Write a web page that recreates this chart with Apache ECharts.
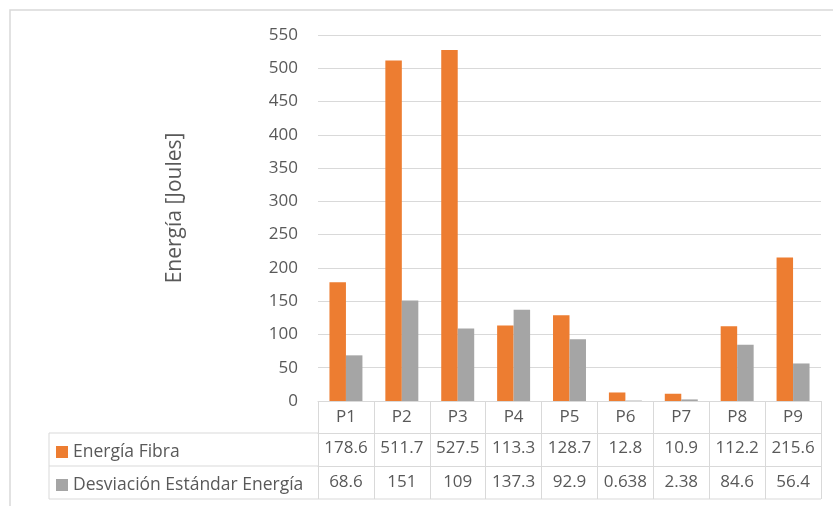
<!DOCTYPE html>
<html>
<head>
<meta charset="utf-8">
<script src="https://cdn.jsdelivr.net/npm/echarts@6/dist/echarts.min.js"></script>
<style>
html,body{margin:0;padding:0;background:#fff;}
#chart{width:833px;height:506px;}
</style>
</head>
<body>
<div id="chart"></div>
<script>
var categories = ['P1','P2','P3','P4','P5','P6','P7','P8','P9'];
var energiaFibra = [178.6, 511.7, 527.5, 113.3, 128.7, 12.8, 10.9, 112.2, 215.6];
var desviacion = [68.6, 151, 109, 137.3, 92.9, 0.638, 2.38, 84.6, 56.4];
var seriesNames = ['Energía Fibra', 'Desviación Estándar Energía'];
var yTicks = {min: 0, max: 550, interval: 50};
var yTitle = 'Energía [Joules]';

var FONT = 'Open Sans';
var TXT = '#595959';
var LINE = '#D9D9D9';
var FS = 17;
var LFS = 17.5;

var chart = echarts.init(document.getElementById('chart'), null, {renderer: 'canvas'});

function tableAxis(offset, labelFn, margin, tickLen) {
  return {
    type: 'category',
    data: categories,
    position: 'bottom',
    offset: offset,
    gridIndex: 0,
    axisLine: {show: true, lineStyle: {color: LINE, width: 1}},
    axisTick: {show: true, alignWithLabel: false, interval: 0, length: tickLen, lineStyle: {color: LINE, width: 1}},
    axisLabel: {show: true, interval: 0, margin: margin, color: TXT, fontFamily: FONT, fontSize: FS,
      lineHeight: 18, formatter: labelFn},
    splitLine: {show: false}
  };
}

function legendRow(name, top) {
  return {data: [name], orient: 'vertical', left: 56, top: top, padding: 0,
    itemWidth: 12, itemHeight: 12, itemGap: 0,
    icon: 'rect', textStyle: {color: TXT, fontFamily: FONT, fontSize: LFS}, selectedMode: false};
}

var option = {
  animation: false,
  backgroundColor: '#fff',
  grid: {left: 318, right: 12, top: 35, bottom: 105, containLabel: false},
  legend: [
    legendRow(seriesNames[0], 443),
    legendRow(seriesNames[1], 476)
  ],
  xAxis: [
    tableAxis(0, function (v) { return v; }, 7, 32),
    tableAxis(32, function (v, i) { return String(energiaFibra[i]); }, 6, 33),
    tableAxis(65, function (v, i) { return String(desviacion[i]); }, 7, 33)
  ],
  yAxis: {
    type: 'value',
    min: yTicks.min, max: yTicks.max, interval: yTicks.interval,
    axisLine: {show: false}, axisTick: {show: false},
    axisLabel: {color: TXT, fontFamily: FONT, fontSize: FS, margin: 20},
    splitLine: {lineStyle: {color: LINE, width: 1}}
  },
  series: [
    {name: seriesNames[0], type: 'bar', xAxisIndex: 0, data: energiaFibra, itemStyle: {color: '#ED7D31'},
     barGap: '0%', barCategoryGap: '41%'},
    {name: seriesNames[1], type: 'bar', xAxisIndex: 0, data: desviacion, itemStyle: {color: '#A5A5A5'},
     barGap: '0%', barCategoryGap: '41%'}
  ],
  graphic: [
    {type: 'rect', shape: {x: 10, y: 10, width: 900, height: 600}, style: {fill: 'none', stroke: LINE, lineWidth: 1.5}, silent: true},
    {type: 'line', shape: {x1: 49, y1: 433, x2: 318, y2: 433}, style: {stroke: LINE, lineWidth: 1}},
    {type: 'line', shape: {x1: 49, y1: 466, x2: 318, y2: 466}, style: {stroke: LINE, lineWidth: 1}},
    {type: 'line', shape: {x1: 49, y1: 499, x2: 821, y2: 499}, style: {stroke: LINE, lineWidth: 1}},
    {type: 'line', shape: {x1: 49, y1: 433, x2: 49, y2: 499}, style: {stroke: LINE, lineWidth: 1}},
    {type: 'text', x: 175, y: 208, rotation: Math.PI / 2,
     style: {text: yTitle, fill: TXT, font: '21px "Open Sans"', align: 'center', verticalAlign: 'middle'}}
  ]
};
chart.setOption(option);
</script>
</body>
</html>
